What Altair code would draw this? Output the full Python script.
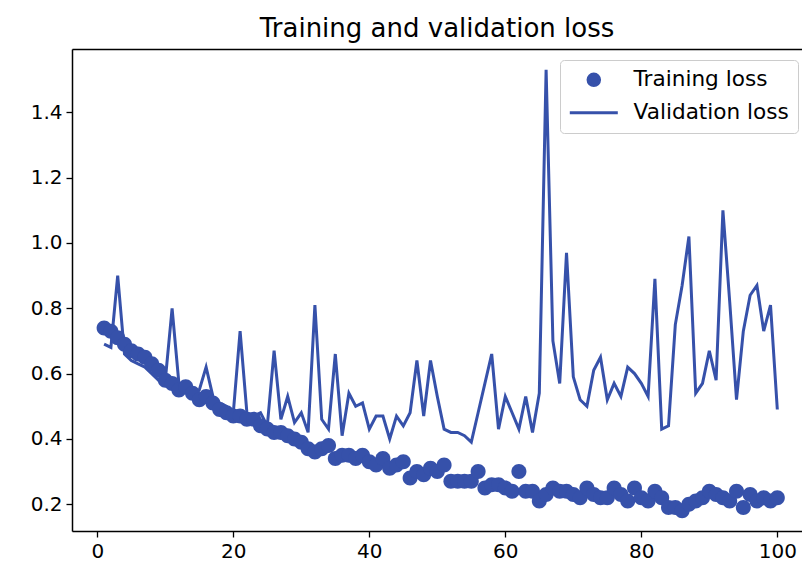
import altair as alt
import pandas as pd

epochs = list(range(1, 101))

training_loss = [
    0.74, 0.73, 0.71, 0.69, 0.67, 0.66, 0.65, 0.63, 0.61, 0.58,
    0.57, 0.55, 0.56, 0.54, 0.52, 0.53, 0.51, 0.49, 0.48, 0.47,
    0.47, 0.46, 0.46, 0.44, 0.43, 0.42, 0.42, 0.41, 0.40, 0.39,
    0.37, 0.36, 0.37, 0.38, 0.34, 0.35, 0.35, 0.34, 0.35, 0.33,
    0.32, 0.34, 0.31, 0.32, 0.33, 0.28, 0.30, 0.29, 0.31, 0.30,
    0.32, 0.27, 0.27, 0.27, 0.27, 0.30, 0.25, 0.26, 0.26, 0.25,
    0.24, 0.30, 0.24, 0.24, 0.21, 0.23, 0.25, 0.24, 0.24, 0.23,
    0.22, 0.25, 0.23, 0.22, 0.22, 0.25, 0.23, 0.21, 0.25, 0.22,
    0.21, 0.24, 0.22, 0.19, 0.19, 0.18, 0.20, 0.21, 0.22, 0.24,
    0.23, 0.22, 0.21, 0.24, 0.19, 0.23, 0.21, 0.22, 0.21, 0.22,
]

validation_loss = [
    0.69, 0.68, 0.90, 0.66, 0.64, 0.63, 0.62, 0.60, 0.58, 0.58,
    0.80, 0.57, 0.55, 0.53, 0.55, 0.62, 0.53, 0.51, 0.50, 0.48,
    0.73, 0.48, 0.47, 0.48, 0.44, 0.67, 0.46, 0.53, 0.45, 0.48,
    0.42, 0.81, 0.46, 0.43, 0.66, 0.41, 0.54, 0.50, 0.51, 0.43,
    0.47, 0.47, 0.40, 0.47, 0.44, 0.48, 0.64, 0.47, 0.64, 0.53,
    0.43, 0.42, 0.42, 0.41, 0.39, 0.48, 0.57, 0.66, 0.43, 0.53,
    0.48, 0.43, 0.53, 0.42, 0.54, 1.53, 0.70, 0.57, 0.97, 0.59,
    0.52, 0.50, 0.61, 0.65, 0.52, 0.57, 0.53, 0.62, 0.60, 0.57,
    0.53, 0.89, 0.43, 0.44, 0.75, 0.87, 1.02, 0.54, 0.57, 0.67,
    0.58, 1.10, 0.82, 0.52, 0.73, 0.84, 0.87, 0.73, 0.81, 0.49,
]

series_names = ["Training loss", "Validation loss"]
x_ticks = [0, 20, 40, 60, 80, 100]
y_ticks = [0.2, 0.4, 0.6, 0.8, 1.0, 1.2, 1.4]

BLUE = "#3651aa"
FONT = "DejaVu Sans"
CIRCLE = "M -0.72,0 A 0.72,0.72 0 1,1 0.72,0 A 0.72,0.72 0 1,1 -0.72,0 Z"
LINE = "M -3,0 H 3"

train_df = pd.DataFrame({"epoch": epochs, "loss": training_loss, "series": series_names[0]})
val_df = pd.DataFrame({"epoch": epochs, "loss": validation_loss, "series": series_names[1]})

x_scale = alt.Scale(domain=[-3.72, 103.63], nice=False, zero=False)
y_scale = alt.Scale(domain=[0.118, 1.594], nice=False, zero=False)

legend_props = dict(
    title=None,
    orient="none",
    legendX=488,
    legendY=11,
    padding=9,
    fillColor="white",
    strokeColor="#cccccc",
    cornerRadius=4,
    labelFont=FONT,
    labelFontSize=21.6,
    labelColor="black",
    labelOffset=29,
    symbolOffset=14,
    symbolSize=256,
    symbolStrokeColor=BLUE,
    symbolStrokeWidth=3,
    rowPadding=9,
)

color = alt.Color(
    "series:N",
    scale=alt.Scale(domain=series_names, range=[BLUE, BLUE]),
    legend=alt.Legend(**legend_props),
)
shape = alt.Shape(
    "series:N",
    scale=alt.Scale(domain=series_names, range=[CIRCLE, LINE]),
    legend=alt.Legend(**legend_props),
)

axis_common = dict(
    grid=False,
    domainColor="black",
    domainWidth=1.5,
    tickColor="black",
    tickWidth=1.3,
    tickSize=6,
    labelFont=FONT,
    labelFontSize=20,
    labelColor="black",
    labelPadding=4,
    title=None,
)

points = alt.Chart(train_df).mark_point(filled=True, size=434, opacity=1).encode(
    x=alt.X("epoch:Q", scale=x_scale, axis=alt.Axis(values=x_ticks, format="d", **axis_common)),
    y=alt.Y("loss:Q", scale=y_scale, axis=alt.Axis(values=y_ticks, format=".1f", **axis_common)),
    color=color,
    shape=shape,
)

line = alt.Chart(val_df).mark_line(strokeWidth=3).encode(
    x=alt.X("epoch:Q", scale=x_scale,
            axis=alt.Axis(orient="top", labels=False, ticks=False, domain=True,
                          domainColor="black", domainWidth=1.5, grid=False, title=None)),
    y=alt.Y("loss:Q", scale=y_scale),
    color=color,
)

chart = (
    alt.layer(line, points)
    .resolve_axis(x="independent")
    .properties(
        width=730,
        height=482,
        title=alt.TitleParams(
            "Training and validation loss",
            font=FONT,
            fontSize=26,
            fontWeight="normal",
            color="black",
            anchor="middle",
            baseline="alphabetic",
            offset=13,
            dy=27,
        ),
        autosize=alt.AutoSizeParams(type="none"),
        padding={"left": 72, "top": 49, "right": 0, "bottom": 39},
    )
    .configure_view(stroke=None)
    .configure(background="white")
)

chart.save("out.html", embed_options={"renderer": "svg", "actions": False})
